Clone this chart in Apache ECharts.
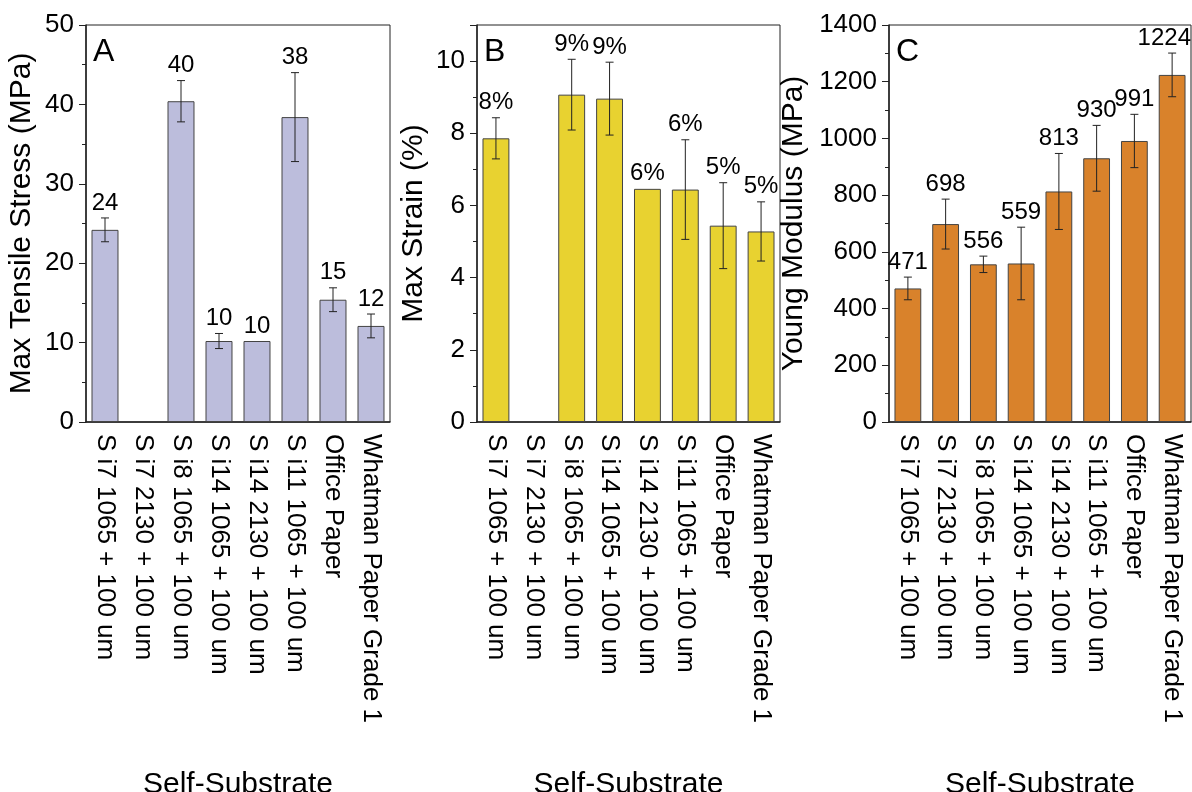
<!DOCTYPE html>
<html>
<head>
<meta charset="utf-8">
<script src="https://cdn.jsdelivr.net/npm/echarts@6/dist/echarts.min.js"></script>
<style>
  html, body { margin: 0; padding: 0; background: #fff; }
  #chart { width: 1192px; height: 792px; }
</style>
</head>
<body>
<div id="chart"></div>
<script>
// categories shared by the three panels
const categories = [
  'S i7 1065 + 100 um',
  'S i7 2130 + 100 um',
  'S i8 1065 + 100 um',
  'S i14 1065 + 100 um',
  'S i14 2130 + 100 um',
  'S i11 1065 + 100 um',
  'Office Paper',
  'Whatman Paper Grade 1'
]

// A: max tensile stress (MPa)
const stressValues = [24.2, null, 40.4, 10.2, 10.2, 38.4, 15.4, 12.1]
const stressErrors = [1.5, null, 2.6, 0.95, 0, 5.6, 1.5, 1.5]
const stressLabels = ['24', '', '40', '10', '10', '38', '15', '12']

// B: max strain (%)
const strainValues = [7.86, null, 9.07, 8.96, 6.46, 6.44, 5.44, 5.28]
const strainErrors = [0.57, null, 0.98, 1.01, 0, 1.38, 1.19, 0.82]
const strainLabels = ['8%', '', '9%', '9%', '6%', '6%', '5%', '5%']

// C: young modulus (MPa)
const modulusValues = [471, 698, 556, 559, 813, 930, 991, 1224]
const modulusErrors = [40, 88, 29, 128, 134, 116, 94, 77]
const modulusLabels = ['471', '698', '556', '559', '813', '930', '991', '1224']

const FONT = 'Liberation Sans, Arial, sans-serif'

const grids = [
  { left: 86, top: 25, width: 304, height: 397 },
  { left: 477, top: 25, width: 303, height: 397 },
  { left: 889, top: 25, width: 302, height: 397 }
]

const panels = [
  { name: 'Max Tensile Stress (MPa)', min: 0, max: 50, interval: 10, nameGap: 49,
    values: stressValues, errors: stressErrors, labels: stressLabels, color: '#bcbddc', letter: 'A' },
  { name: 'Max Strain (%)', min: 0, max: 11, interval: 2, nameGap: 48,
    values: strainValues, errors: strainErrors, labels: strainLabels, color: '#e8d230', letter: 'B' },
  { name: 'Young Modulus (MPa)', min: 0, max: 1400, interval: 200, nameGap: 80,
    values: modulusValues, errors: modulusErrors, labels: modulusLabels, color: '#d9822b', letter: 'C' }
]

const chart = echarts.init(document.getElementById('chart'))

const xAxes = panels.map((p, i) => ({
  type: 'category',
  gridIndex: i,
  data: categories,
  name: 'Self-Substrate',
  nameLocation: 'middle',
  nameGap: 348,
  nameTextStyle: { fontSize: 30, fontFamily: FONT, color: '#000' },
  axisLine: { lineStyle: { color: '#222', width: 1.5 } },
  axisTick: { alignWithLabel: true, length: 7, lineStyle: { color: '#222' } },
  axisLabel: { rotate: -90, interval: 0, margin: 12, fontSize: 26, fontFamily: FONT, color: '#000' }
}))

const yAxes = panels.map((p, i) => ({
  type: 'value',
  gridIndex: i,
  min: p.min,
  max: p.max,
  interval: p.interval,
  name: p.name,
  nameLocation: 'middle',
  nameGap: p.nameGap,
  nameTextStyle: { fontSize: 30, fontFamily: FONT, color: '#000' },
  axisLine: { show: true, lineStyle: { color: '#222', width: 1.5 } },
  axisTick: { show: true, length: 7, lineStyle: { color: '#222' } },
  minorTick: { show: true, splitNumber: 2, length: 4, lineStyle: { color: '#222' } },
  splitLine: { show: false },
  axisLabel: {
    margin: 12, fontSize: 26, fontFamily: FONT, color: '#000',
    formatter: v => (v % p.interval === 0 ? String(v) : '')
  }
}))

// error bars + value labels
const makeErrorSeries = (p, i) => {
  const data = []
  p.values.forEach((v, k) => {
    if (v != null) data.push([k, v, p.errors[k]])
  })
  return {
    type: 'custom',
    xAxisIndex: i,
    yAxisIndex: i,
    z: 10,
    data: data,
    renderItem: (params, api) => {
      const k = api.value(0)
      const v = api.value(1)
      const e = api.value(2)
      const hi = api.coord([k, v + e])
      const lo = api.coord([k, v - e])
      const x = hi[0]
      const children = []
      if (e > 0) {
        const lineStyle = { stroke: '#222', lineWidth: 1 }
        children.push({ type: 'line', shape: { x1: x, y1: hi[1], x2: x, y2: lo[1] }, style: lineStyle })
        children.push({ type: 'line', shape: { x1: x - 4, y1: hi[1], x2: x + 4, y2: hi[1] }, style: lineStyle })
        children.push({ type: 'line', shape: { x1: x - 4, y1: lo[1], x2: x + 4, y2: lo[1] }, style: lineStyle })
      }
      // keep the label inside the canvas
      let tx = x
      let align = 'center'
      if (x > 1160) { tx = 1191; align = 'right' }
      children.push({
        type: 'text',
        style: {
          text: p.labels[k],
          x: tx,
          y: hi[1] - 3,
          align: align,
          verticalAlign: 'bottom',
          fontSize: 24,
          fontFamily: FONT,
          fill: '#000'
        }
      })
      return { type: 'group', children: children }
    }
  }
}

const series = []
panels.forEach((p, i) => {
  series.push({
    type: 'bar',
    xAxisIndex: i,
    yAxisIndex: i,
    data: p.values,
    barWidth: '71%',
    itemStyle: { color: p.color, borderColor: '#444', borderWidth: 1 }
  })
  series.push(makeErrorSeries(p, i))
})

const letters = panels.map((p, i) => ({
  type: 'text',
  left: grids[i].left + 7,
  top: 36,
  style: { text: p.letter, fontSize: 32, fontFamily: FONT, fill: '#000' }
}))

chart.setOption({
  animation: false,
  grid: grids.map(g => Object.assign({ show: true, borderColor: '#222', borderWidth: 1, outerBoundsMode: 'none' }, g)),
  xAxis: xAxes,
  yAxis: yAxes,
  series: series,
  graphic: letters
})
</script>
</body>
</html>
